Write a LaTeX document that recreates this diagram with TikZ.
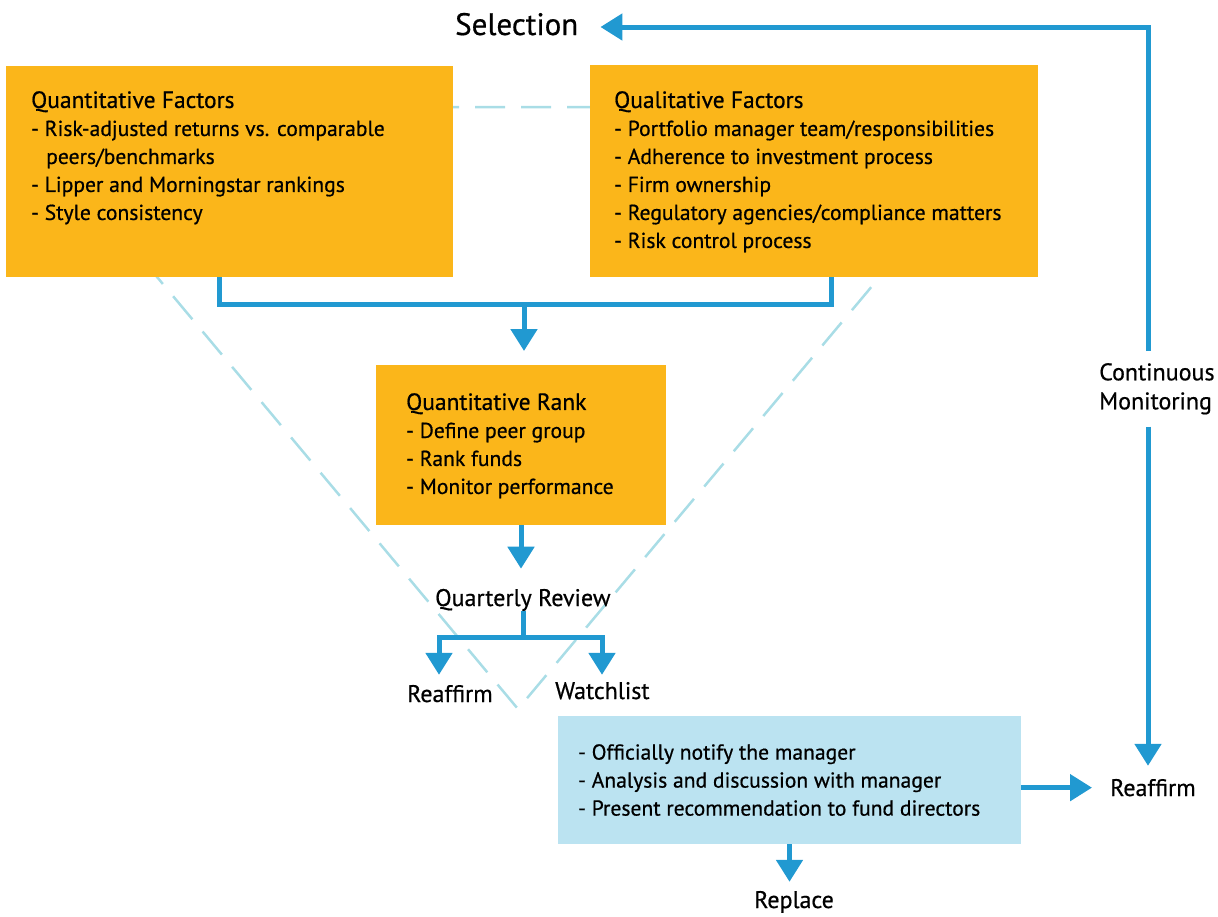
\documentclass[tikz,border=0pt]{standalone}
\usepackage{fontspec}
\setmainfont{PT Sans}[FakeBold=0.6]
\usetikzlibrary{arrows.meta}
\definecolor{orangebox}{HTML}{FBB61A}
\definecolor{flowblue}{HTML}{2199D1}
\definecolor{lightbox}{HTML}{BBE3F1}
\definecolor{dashblue}{HTML}{A9DDE6}
\newcommand{\titlefont}{\fontsize{23.5}{28}\selectfont}
\begin{document}
\begin{tikzpicture}[x=1pt,y=-1pt,
  obox/.style={fill=orangebox, draw=none, inner sep=0pt, outer sep=0pt, anchor=north west},
  bbox/.style={fill=lightbox, draw=none, inner sep=0pt, outer sep=0pt, anchor=north west},
  blocktext/.style={inner sep=0pt, align=left, anchor=north west, font=\fontsize{21.6}{28}\selectfont},
  label/.style={inner sep=0pt, anchor=base west, font=\fontsize{24}{29}\selectfont},
  flowline/.style={draw=flowblue, line width=5pt, line join=miter},
  flow/.style={flowline, -{Triangle[width=26pt,length=22pt]}},
  dashline/.style={draw=dashblue, line width=2.5pt, dash pattern=on 30pt off 16pt}
]
\useasboundingbox (0,0) rectangle (1218,916);

% funnel (dashed, behind boxes)
\draw[dashline] (15,107) -- (1022,107) -- (518,709) -- cycle;

% boxes
\node[obox, minimum width=447pt, minimum height=211pt] (qf) at (6,66) {};
\node[obox, minimum width=448pt, minimum height=212pt] (ql) at (590,65) {};
\node[obox, minimum width=290pt, minimum height=160pt] (qr) at (376,365) {};
\node[bbox, minimum width=463pt, minimum height=128pt] (lb) at (558,716) {};

% box texts
\node[blocktext] (qft) at (31,91) {{\titlefont Quantitative Factors}\\- Risk-adjusted returns vs. comparable\\\hspace*{15pt}peers/benchmarks\\- Lipper and Morningstar rankings\\- Style consistency};
\node[blocktext] (qlt) at (614,91) {{\titlefont Qualitative Factors}\\- Portfolio manager team/responsibilities\\- Adherence to investment process\\- Firm ownership\\- Regulatory agencies/compliance matters\\- Risk control process};
\node[blocktext] (qrt) at (406,393) {{\titlefont Quantitative Rank}\\- Define peer group\\- Rank funds\\- Monitor performance};
\node[blocktext] (lbt) at (578,744) {- Officially notify the manager\\- Analysis and discussion with manager\\- Present recommendation to fund directors};

% labels
\node[label, font=\fontsize{31}{34}\selectfont] (sel) at (455,35) {Selection};
\node[label] (qrev) at (435,606) {Quarterly Review};
\node[label] (raf) at (407,702) {Reaffirm};
\node[label] (wl) at (555,699) {Watchlist};
\node[label] (raf2) at (1110,796) {Reaffirm};
\node[label] (rep) at (754,908) {Replace};
\node[inner xsep=0pt, inner ysep=12pt, align=left, anchor=north west, font=\fontsize{24}{29}\selectfont] (cm) at (1099,351) {Continuous\\Monitoring};

% connectors
\coordinate (j1) at (219,304);
\coordinate (j2) at (831,304);
\coordinate (jm) at (524,304);
\draw[flowline] (qf.south -| j1) -- (j1) -- (j2) -- (ql.south -| j2);
\draw[flow, shorten >=14pt] (jm) -- (jm |- qr.north);

\draw[flow, shorten >=20pt] (qr.south) -- (qr.south |- qrev.north);

\coordinate (bm) at (523,637);
\coordinate (bl) at (439,637);
\coordinate (bR) at (602,637);
\draw[flowline] (qrev.south -| bm) -- (bm);
\draw[flow, shorten >=10pt] (bm) -- (bl) -- (bl |- raf.north);
\draw[flow, shorten >=7pt] (bm) -- (bR) -- (bR |- wl.north);

\draw[flow, shorten >=18pt] (lb.east |- raf2.west) -- (raf2.west);
\draw[flow, shorten >=9pt] (lb.south) -- (lb.south |- rep.north);

\coordinate (ctop) at (1148,27);
\draw[flow, shorten >=22pt] (ctop |- cm.north) -- (ctop) -- (sel.east |- ctop);
\draw[flow, shorten >=13pt] (ctop |- cm.south) -- (ctop |- raf2.north);
\end{tikzpicture}
\end{document}
